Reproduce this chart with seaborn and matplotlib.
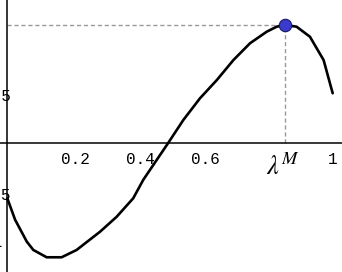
import matplotlib
matplotlib.use("Agg")
import matplotlib.pyplot as plt
import seaborn as sns
import pandas as pd
from matplotlib.ticker import MultipleLocator, FixedLocator, NullFormatter

sns.set_style("white")
plt.rcParams['font.family'] = ['Liberation Mono', 'DejaVu Sans']
plt.rcParams['mathtext.fontset'] = 'stix'

# data
lam = [0.0, 0.024, 0.060, 0.080, 0.121, 0.167, 0.213, 0.285, 0.336, 0.387, 0.418,
       0.495, 0.541, 0.592, 0.644, 0.695, 0.746, 0.797, 0.828, 0.853, 0.889, 0.930, 0.972, 1.0]
val = [-0.57, -0.79, -1.015, -1.10, -1.175, -1.175, -1.10, -0.913, -0.76, -0.57, -0.38,
       0.0, 0.233, 0.455, 0.643, 0.848, 1.02, 1.138, 1.19, 1.207, 1.19, 1.087, 0.848, 0.507]
lam_M = 0.853
val_M = 1.207
xtick_vals = [0.2, 0.4, 0.6, 1.0]
xtick_labels = ["0.2", "0.4", "0.6", "1"]
ytick_vals = [0.5, -0.5, -1.0]
ytick_labels = ["0.5", "-0.5", "-1"]

df = pd.DataFrame({"lam": lam, "val": val})

fig = plt.figure(figsize=(3.42, 2.72), dpi=100)
ax = fig.add_axes([0, 0, 1, 1])

ax.set_xlim(-0.0224, 1.0286)
ax.set_ylim(-1.326, 1.4636)

# dashed guide lines
ax.plot([0, lam_M], [val_M, val_M], ls=(0, (3, 2)), color="#999999", lw=1.0, zorder=1)
ax.plot([lam_M, lam_M], [0, val_M], ls=(0, (3, 2)), color="#999999", lw=1.0, zorder=1)

sns.lineplot(data=df, x="lam", y="val", sort=False, color="black", lw=1.9, ax=ax, zorder=3)
sns.scatterplot(x=[lam_M], y=[val_M], s=80, color="#3a3acc", edgecolor="#1a1a66",
                linewidth=0.8, ax=ax, zorder=4)

ax.set_xlabel("")
ax.set_ylabel("")

for s in ["top", "right"]:
    ax.spines[s].set_visible(False)
ax.spines["left"].set_position(("data", 0))
ax.spines["bottom"].set_position(("data", 0))
for s in ["left", "bottom"]:
    ax.spines[s].set_linewidth(1.1)
    ax.spines[s].set_color("black")

ax.xaxis.set_major_locator(FixedLocator(xtick_vals + [lam_M]))
ax.xaxis.set_major_formatter(NullFormatter())
ax.xaxis.set_minor_locator(MultipleLocator(0.05))
ax.yaxis.set_major_locator(FixedLocator(ytick_vals + [1.0]))
ax.yaxis.set_major_formatter(NullFormatter())
ax.yaxis.set_minor_locator(MultipleLocator(0.1))
ax.tick_params(axis="x", which="both", direction="in", length=3, width=0.8, color="black")
ax.tick_params(axis="y", which="both", direction="in", length=3, width=0.8, color="black")

xoff = {"0.2": 0.01, "0.4": 0.01, "0.6": 0.01, "1": 0.0}
for xv, lab in zip(xtick_vals, xtick_labels):
    ax.text(xv + xoff[lab], -0.175, lab, ha="center", va="center", fontsize=11.5, color="black")
ax.text(lam_M - 0.005, -0.245, r"$\lambda^{M}$", ha="center", va="center", fontsize=19, color="black")

ypos = {"0.5": 0.47, "-0.5": -0.54, "-1": -1.02}
xr = {"0.5": 0.012, "-0.5": 0.012, "-1": -0.013}
for yv, lab in zip(ytick_vals, ytick_labels):
    ax.text(xr[lab], ypos[lab], lab, ha="right", va="center", fontsize=11.5, color="black")

fig.savefig("out.png", dpi=100)
